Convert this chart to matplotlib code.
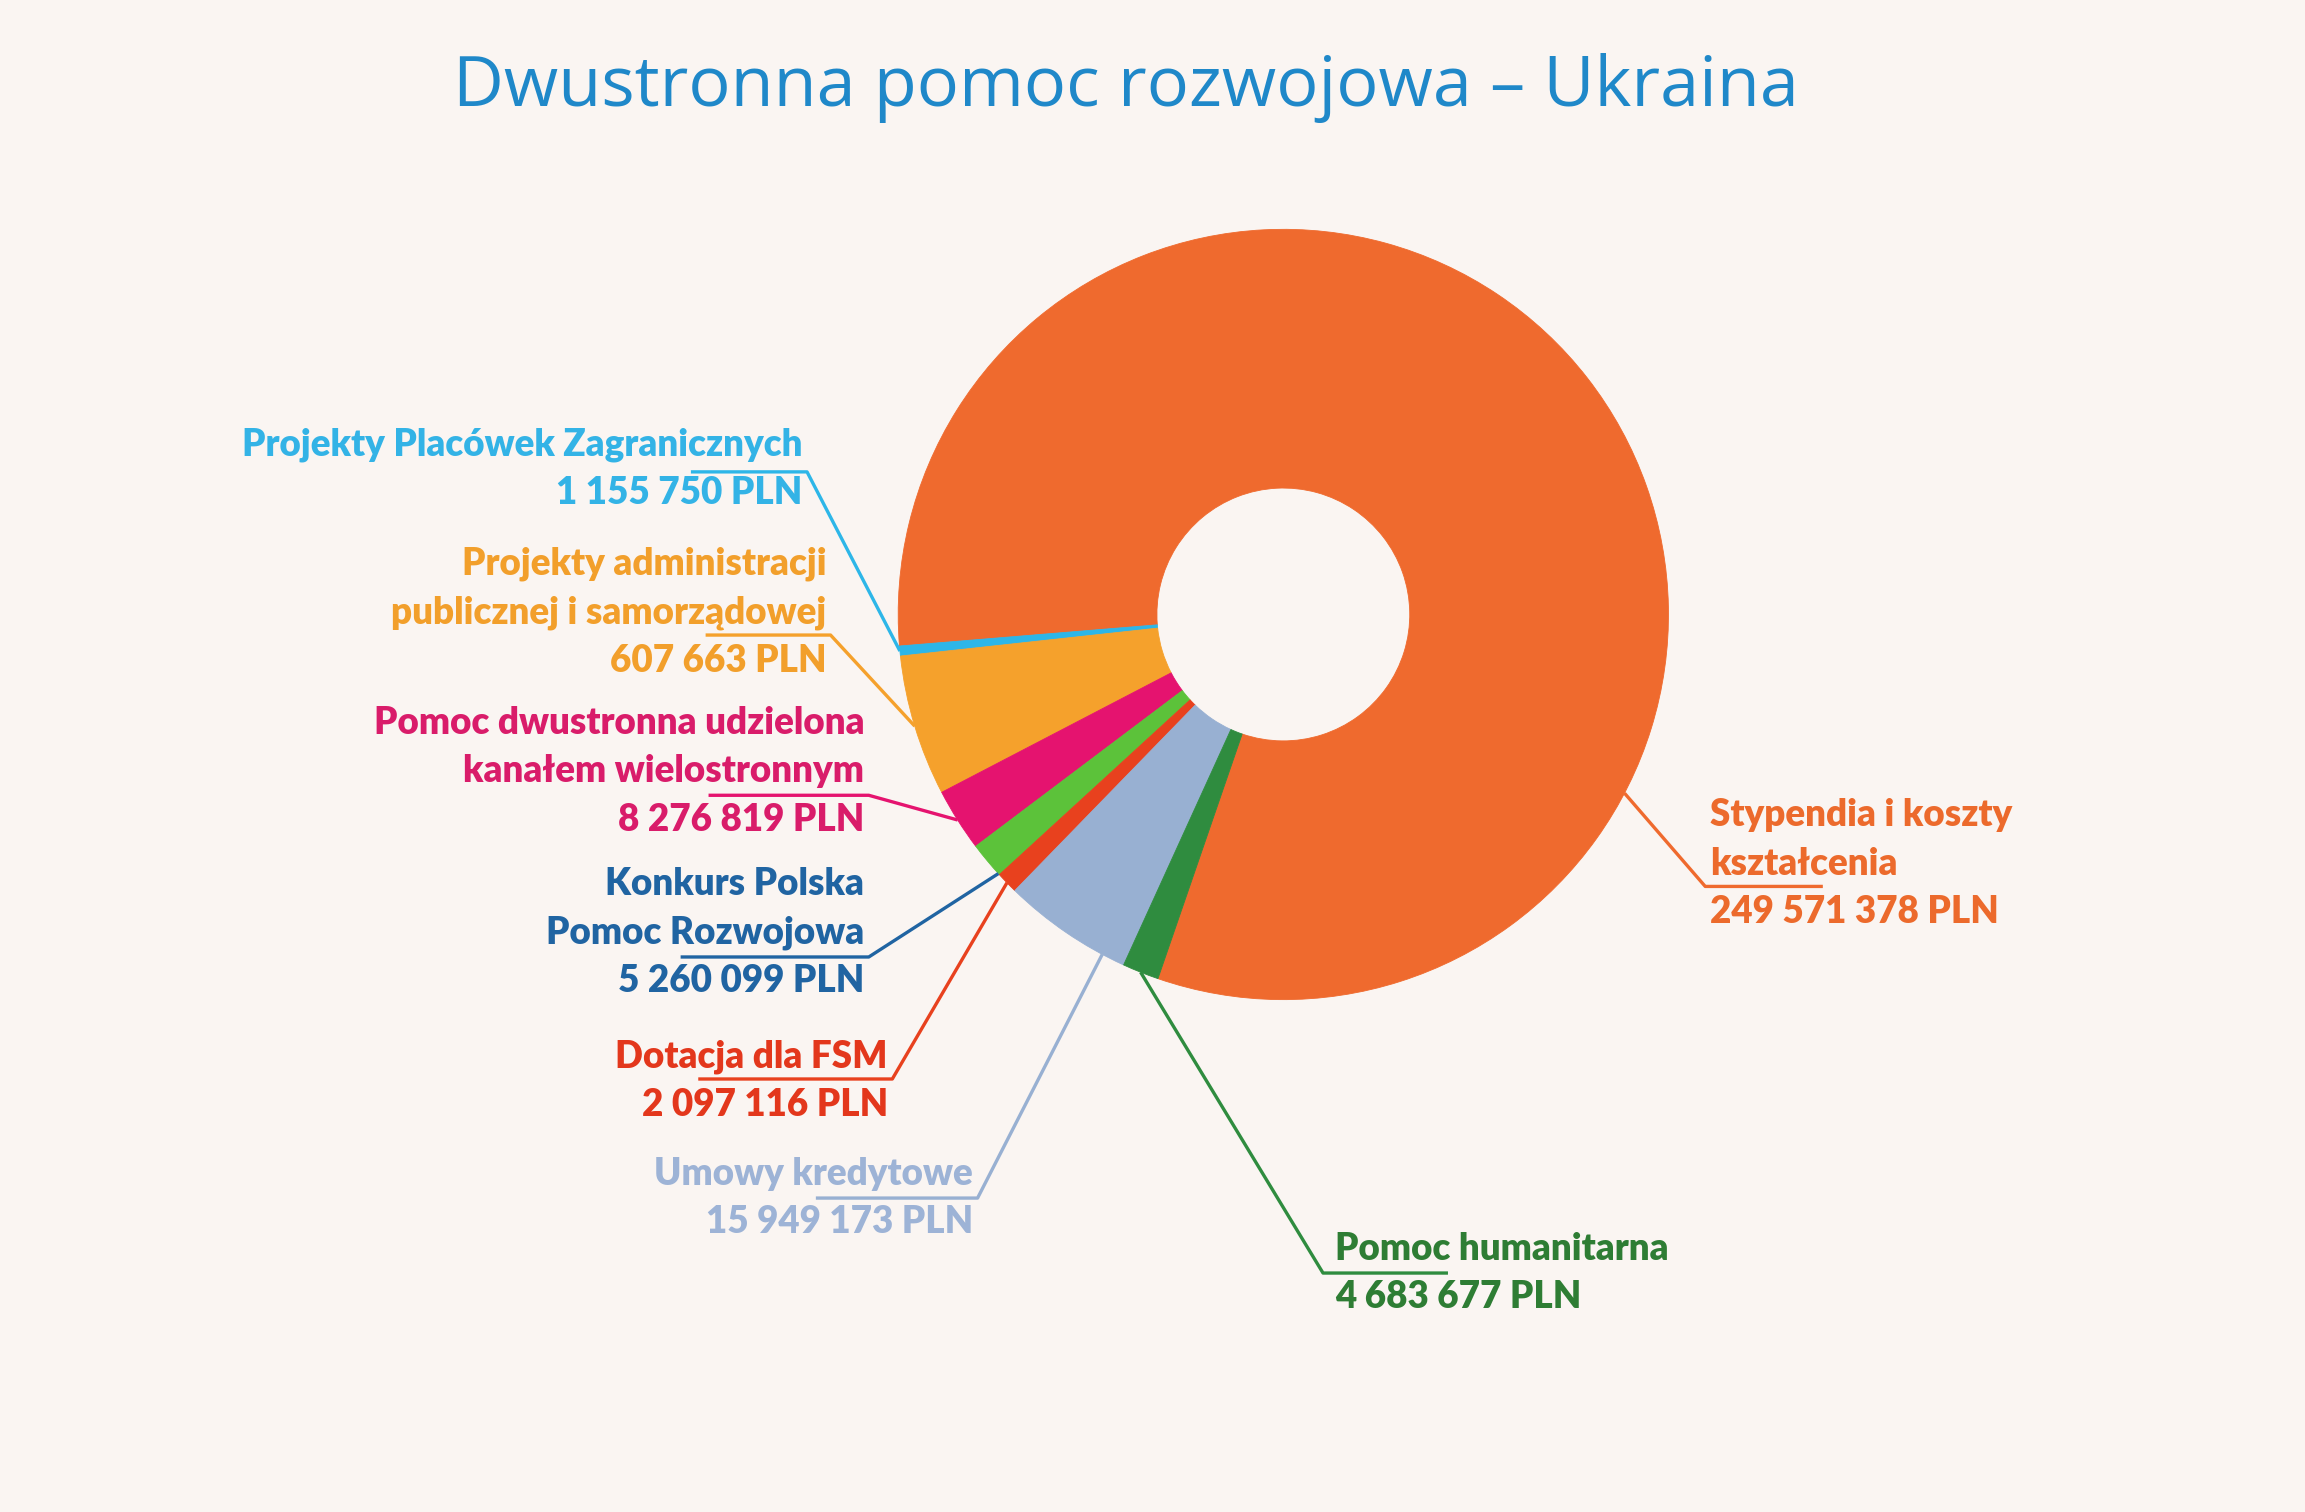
import numpy as np
import matplotlib
matplotlib.use("Agg")
import matplotlib.pyplot as plt

# ---- data ----
names = [
    ["Stypendia i koszty", "kształcenia"],
    ["Projekty Placówek Zagranicznych"],
    ["Projekty administracji", "publicznej i samorządowej"],
    ["Pomoc dwustronna udzielona", "kanałem wielostronnym"],
    ["Konkurs Polska", "Pomoc Rozwojowa"],
    ["Dotacja dla FSM"],
    ["Umowy kredytowe"],
    ["Pomoc humanitarna"],
]
amounts_pln = [249571378, 1155750, 607663, 8276819, 5260099, 2097116, 15949173, 4683677]
# slice sizes as drawn in the picture (degrees), not proportional to the amounts
slice_deg = [293.7, 1.5, 21.3, 9.5, 5.5, 3.3, 19.7, 5.5]

title = "Dwustronna pomoc rozwojowa \u2013 Ukraina"

# ---- style ----
bg = "#faf5f2"
slice_colors = ["#ef6a2e", "#2db6e8", "#f5a12c", "#e5136f", "#5cc23a", "#e8411e", "#98b0d2", "#2f8c3f"]
label_colors = ["#ec6a2c", "#33b3e6", "#f29f2b", "#d91c6a", "#2064a2", "#e3371c", "#9db3d6", "#2e7d34"]

# ---- layout, in units of a 1568 px wide frame (y measured downward) ----
W, H = 1568.0, 1568.0 * 1512 / 2305
cx, cy, R, r = 873, 418, 262, 86
start_deg = 251
# text x, first line y, side, underline y, underline x0, x1, leader anchor fraction within wedge
lay = [
    (1163, 554, "R", 603, 1160, 1240, 0.277),
    (546, 302, "L", 321, 470, 549, 0.5),
    (562, 383, "L", 432, 480, 565, 0.5),
    (588, 491, "L", 541, 482, 591, 0.5),
    (588, 601, "L", 651, 463, 591, 0.96),
    (604, 718, "L", 734, 475, 607, 0.5),
    (662, 798, "L", 815, 555, 665, 0.82),
    (908, 849, "R", 866, 900, 985, 0.5),
]
line_gap = 33
fs_label = 26.5
fs_title = 50.5


def Y(y):
    return H - y


fig = plt.figure(figsize=(23.05, 15.12), dpi=100, facecolor=bg)
ax = fig.add_axes([0, 0, 1, 1])
ax.set_facecolor(bg)

wedges, _ = ax.pie(slice_deg, colors=slice_colors, startangle=start_deg, counterclock=True,
                   center=(cx, Y(cy)), radius=R,
                   wedgeprops=dict(width=R - r, linewidth=0.6))
for w, c in zip(wedges, slice_colors):
    w.set_edgecolor(c)
ax.set_xlim(0, W)
ax.set_ylim(0, H)
ax.set_aspect("auto")
ax.axis("off")

ax.text(766, Y(60), title, ha="center", va="center", fontsize=fs_title,
        color="#1f88c9", family=["Open Sans", "DejaVu Sans"])

for i, (w, lines, amt) in enumerate(zip(wedges, names, amounts_pln)):
    tx, ty, side, uy, ux0, ux1, frac = lay[i]
    col = label_colors[i]
    ha = "right" if side == "L" else "left"
    rows = lines + [f"{amt:,}".replace(",", " ") + " PLN"]
    for k, s in enumerate(rows):
        ax.text(tx, Y(ty + k * line_gap + 8), s, ha=ha, va="baseline", fontsize=fs_label,
                color=col, fontweight="heavy", family=["Lato", "DejaVu Sans"])
    a = np.deg2rad(w.theta1 + frac * (w.theta2 - w.theta1))
    px, py = w.center[0] + R * np.cos(a), w.center[1] + R * np.sin(a)
    if side == "L":
        xs, ys = [ux0, ux1, px], [Y(uy), Y(uy), py]
    else:
        xs, ys = [px, ux0, ux1], [py, Y(uy), Y(uy)]
    ax.plot(xs, ys, color=slice_colors[i] if i != 4 else col, lw=2.4,
            solid_capstyle="butt", zorder=3 if i != 0 else 1)

fig.savefig("out.png", dpi=100, facecolor=bg)
